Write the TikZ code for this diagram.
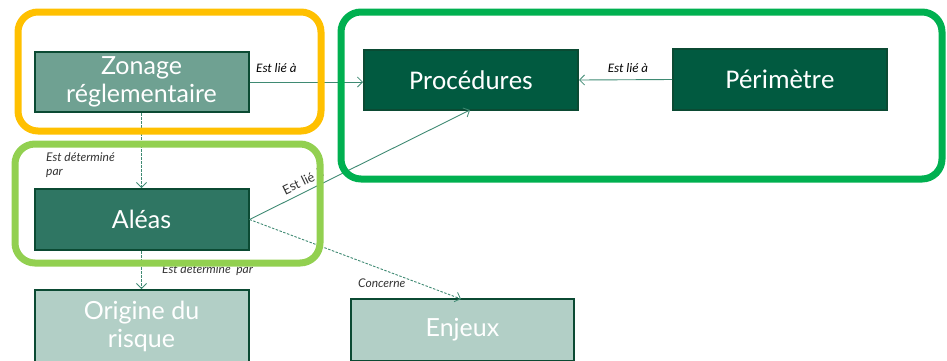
\documentclass[tikz,border=0pt]{standalone}
\usepackage{fontspec}
\setmainfont{Lato}
\newfontfamily\calib{Carlito}
\usetikzlibrary{arrows.meta}
\definecolor{bordc}{HTML}{0B4A33}
\definecolor{zonc}{HTML}{6FA192}
\definecolor{alec}{HTML}{2F7663}
\definecolor{proc}{HTML}{015A40}
\definecolor{lightc}{HTML}{B2CFC6}
\definecolor{linec}{HTML}{3F8A73}
\definecolor{orangec}{HTML}{FFC000}
\definecolor{lgreenc}{HTML}{92D050}
\definecolor{greenc}{HTML}{00B050}
\tikzset{
  box/.style={draw=bordc, line width=2pt, text=white, minimum width=214pt, align=center, inner sep=0pt},
  conn/.style={draw=linec, line width=0.9pt, -{Straight Barb[length=5pt,width=10pt,line width=0.8pt]}},
  dconn/.style={conn, dash pattern=on 2.5pt off 1.5pt},
  lab/.style={font=\itshape\fontsize{12}{14}\selectfont, text=black!80, inner sep=0pt},
  clab/.style={font=\calib\itshape\fontsize{13}{14}\selectfont, text=black, inner sep=0pt},
  frame/.style={line width=7pt, rounded corners=20pt}
}
\begin{document}
\begin{tikzpicture}[x=1pt,y=-1pt]
\useasboundingbox (0,0) rectangle (947,360);
% nodes
\node[box, fill=zonc, minimum height=60pt, font=\fontsize{25}{28}\selectfont] (zon) at (141.5,82) {Zonage\\r\'eglementaire};
\node[box, fill=alec, minimum height=61pt, font=\fontsize{25}{28}\selectfont] (ale) at (141.5,219.5) {Al\'eas};
\node[box, fill=lightc, minimum height=72pt, font=\fontsize{25}{28}\selectfont] (ori) at (141.5,326) {Origine du\\risque};
\node[box, fill=lightc, minimum width=223pt, minimum height=62pt, font=\fontsize{25}{28}\selectfont] (enj) at (462.5,330) {Enjeux};
\node[box, fill=proc, minimum height=60pt, font=\calib\fontsize{27}{30}\selectfont] (pro) at (471,80) {Proc\'edures};
\node[box, fill=proc, minimum height=61pt, font=\calib\fontsize{27}{30}\selectfont] (per) at (780,79.5) {P\'erim\`etre};
% connectors
\draw[conn] (zon.east) -- (pro.west |- zon.east);
\node[clab, anchor=west] (l1) at (256,68) {Est li\'e \`a};
\draw[conn] (per.west) -- (pro.east);
\node[clab] (l2) at (628,68) {Est li\'e \`a};
\draw[dconn] (zon.south) -- (ale.north);
\node[lab, anchor=north west, align=left] (l3) at (46,152) {Est d\'etermin\'e\\par};
\draw[dconn] (ale.south) -- (ori.north);
\node[lab, anchor=west] (l4) at (162,270) {Est d\'etermin\'e\ \ par};
\coordinate (enjtop) at (461,299);
\draw[dconn] (ale.east) -- (enjtop);
\node[lab, anchor=west] (l5) at (358,283) {Concerne};
\coordinate (protarget) at (470,110);
\draw[conn] (ale.east) -- (protarget);
\node[lab, font=\fontsize{13}{14}\selectfont, rotate=26, anchor=west] (l6) at (283,191) {Est li\'e \`a};
% frames
\draw[orangec, frame] (18,12) rectangle (321,131);
\draw[lgreenc, frame] (15,144) rectangle (320,263);
\draw[greenc, frame] (341,12) rectangle (942,179);
\end{tikzpicture}
\end{document}
